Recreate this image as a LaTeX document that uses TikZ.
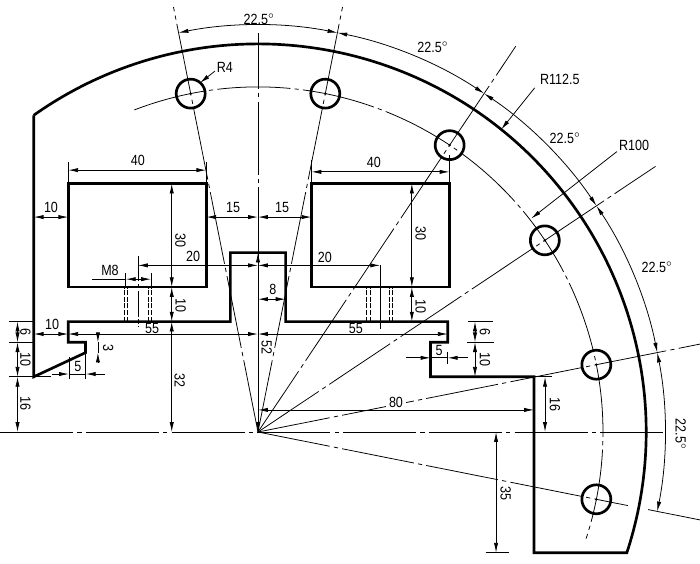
\documentclass[tikz,border=0pt]{standalone}
\usepackage{fontspec}
\setmainfont[FakeStretch=0.85]{Liberation Sans}
\usetikzlibrary{arrows.meta}
\tikzset{
    outline/.style={line width=1.9pt},
    thinline/.style={line width=0.55pt},
    centerline/.style={line width=0.55pt, dash pattern=on 52pt off 3pt on 3pt off 3pt},
    threadline/.style={line width=0.7pt, dash pattern=on 3.5pt off 1.2pt},
    dimline/.style={line width=0.55pt, {Latex[length=7pt,width=3pt]}-{Latex[length=7pt,width=3pt]}},
    dimto/.style={line width=0.55pt, -{Latex[length=7pt,width=3pt]}},
    dimlabel/.style={inner sep=0pt, font=\fontsize{10.5}{10.5}\selectfont},
    sidelabel/.style={dimlabel, rotate=-90}
}

\begin{document}
\begin{tikzpicture}[x=0.08625cm, y=0.08625cm]
        \useasboundingbox (-74.78, -38.26) rectangle (128.12, 125.22);
        % center lines
        \draw [centerline] (-74.78, 0) -- (117.5, 0);
        \draw [centerline] (0, 0) -- (0, 115.6);
        \draw [centerline] (0, 0) -- (101.25:125.6);
        \draw [centerline] (0, 0) -- (78.75:125.6);
        \draw [centerline] (0, 0) -- (56.25:134.5);
        \draw [centerline] (0, 0) -- (33.75:138.6);
        \draw [centerline] (0, 0) -- (11.25:130.6);
        \draw [centerline] (0, 0) -- (-11.25:109.3);
        \draw [thinline] (-11.25:115.3) -- (-11.25:130.6);
        \draw [centerline] (111:100) arc (111:-18:100);
        % part
        \draw [outline] (125.3:112.5) -- (-65, 16) -- (-50, 23) -- (-50, 26) -- (-55, 26) -- (-55, 32) --
        (-8, 32) -- (-8, 52) -- (8, 52) -- (8, 32) -- (55, 32) -- (55, 26) -- (50, 26) -- (50, 16) --
        (80, 16) -- (80, -35) -- (-18.13:112.5) arc (-18.13:125.3:112.5);
        \draw [outline] (-55, 42) rectangle (-15, 72);
        \draw [outline] (15.5, 42) rectangle (55.5, 72);
        \foreach \a in {101.25, 78.75, 56.25, 33.75, 11.25, -11.25} {
            \draw [outline] (\a:100) circle (4.2);
            \fill (\a:100) circle (0.4);
        }
        % threads
        \foreach \x in {-38.6, -37.7, -31.7, -31, 31.5, 32.5, 38.1, 39} {
            \draw [threadline] (\x, 32) -- (\x, 42);
        }
        \draw [centerline, dash pattern=on 18pt off 2pt on 3pt off 2pt] (-34.8, 51) -- (-34.8, 30.4);
        \draw [thinline] (35.4, 48.4) -- (35.4, 29.9);
        % angle dimensions
        \draw [dimline] (101.25:118) arc (101.25:78.75:118);
        \draw [dimline] (78.75:118) arc (78.75:56.25:118);
        \draw [dimline] (56.25:118) arc (56.25:33.75:118);
        \draw [dimline] (33.75:118) arc (33.75:11.25:118);
        \draw [dimline] (11.25:118) arc (11.25:-11.25:118);
        \node [dimlabel] (angleA) at (0.3, 119.7) {22.5$^\circ$};
        \node [dimlabel] (angleB) at (50.7, 111.5) {22.5$^\circ$};
        \node [dimlabel] (angleC) at (89, 85.1) {22.5$^\circ$};
        \node [dimlabel] (angleD) at (115.7, 47.7) {22.5$^\circ$};
        \node [sidelabel] (angleE) at (122.5, -0.6) {22.5$^\circ$};
        % radii
        \draw [dimto] (51.2:128) -- (51.2:112.5);
        \draw [dimto] (38:132) -- (38:100.5);
        \draw [dimto] (-12.5, 104.6) -- (-16.8, 101.2);
        \node [dimlabel] (radiusOuter) at (87.5, 102.3) {R112.5};
        \node [dimlabel] (radiusHoles) at (109, 83.2) {R100};
        \node [dimlabel] (radiusHole) at (-9.6, 105.8) {R4};
        % top of the windows
        \draw [thinline] (-55, 72) -- (-55, 78.3);
        \draw [thinline] (-15, 72) -- (-15, 78.3);
        \draw [dimline] (-55, 75.9) -- (-15, 75.9);
        \node [dimlabel] (widthLeft) at (-34.8, 78.8) {40};
        \draw [thinline] (15.5, 72) -- (15.5, 78.8);
        \draw [thinline] (55.5, 72) -- (55.5, 80.3);
        \draw [dimline] (15.5, 75.4) -- (55.5, 75.4);
        \node [dimlabel] (widthRight) at (33.6, 78.2) {40};
        \draw [dimline] (-65, 62.3) -- (-55, 62.3);
        \node [dimlabel] (wallTop) at (-60, 65.1) {10};
        \draw [dimline] (-15, 62.3) -- (0, 62.3);
        \draw [dimline] (0, 62.3) -- (15.5, 62.3);
        \node [dimlabel] (gapLeft) at (-7.2, 65.1) {15};
        \node [dimlabel] (gapRight) at (7, 65.1) {15};
        % heights
        \draw [dimline] (-25, 72) -- (-25, 42);
        \draw [dimline] (-25, 42) -- (-25, 32);
        \draw [dimline] (-25, 32) -- (-25, 0);
        \node [sidelabel] (heightLeft) at (-22.5, 55.4) {30};
        \node [sidelabel] (webLeft) at (-22.4, 36.8) {10};
        \node [sidelabel] (baseLeft) at (-22.7, 14.8) {32};
        \draw [dimline] (44.6, 72) -- (44.6, 42);
        \draw [dimline] (44.6, 42) -- (44.6, 32);
        \node [sidelabel] (heightRight) at (47.2, 57.4) {30};
        \node [sidelabel] (webRight) at (47.2, 36.5) {10};
        \draw [dimline] (0, 52) -- (0, 0);
        \node [sidelabel] (stem) at (2.5, 24.6) {52};
        \draw [dimline] (0, 38.5) -- (8, 38.5);
        \node [dimlabel] (stemHalf) at (4.3, 41.4) {8};
        % thread positions
        \draw [dimline] (-34.8, 48.3) -- (0, 48.3);
        \draw [dimline] (0, 48.3) -- (35.4, 48.3);
        \node [dimlabel] (threadLeft) at (-18.8, 50.9) {20};
        \node [dimlabel] (threadRight) at (19.4, 50.6) {20};
        \draw [thinline] (-38.3, 42) -- (-38.3, 46);
        \draw [thinline] (-31, 42) -- (-31, 46);
        \draw [thinline] (-48.1, 44.3) -- (-38.3, 44.3);
        \draw [dimline] (-38.3, 44.3) -- (-31, 44.3);
        \node [dimlabel] (threadSize) at (-42.9, 46.9) {M8};
        % base
        \draw [dimline] (-65, 28.4) -- (-55, 28.4);
        \draw [dimline] (-55, 28.4) -- (0, 28.4);
        \draw [dimline] (0, 28.4) -- (55, 28.4);
        \node [dimlabel] (wallBase) at (-59.7, 31.2) {10};
        \node [dimlabel] (baseLeftW) at (-30.7, 30) {55};
        \node [dimlabel] (baseRightW) at (28.4, 30) {55};
        % left stack
        \draw [thinline] (-72.2, 32) -- (-65, 32);
        \draw [thinline] (-72.2, 26) -- (-65, 26);
        \draw [thinline] (-72.2, 16) -- (-60, 16);
        \draw [dimline] (-69.7, 32) -- (-69.7, 26);
        \draw [dimline] (-69.7, 26) -- (-69.7, 16);
        \draw [dimline] (-69.7, 16) -- (-69.7, 0);
        \node [sidelabel] (stackA) at (-67.4, 29) {6};
        \node [sidelabel] (stackB) at (-67.4, 20.9) {10};
        \node [sidelabel] (stackC) at (-67.4, 8.4) {16};
        % hook left
        \draw [thinline] (-46.4, 26) -- (-46.4, 23);
        \draw [dimto] (-46.4, 28.6) -- (-46.4, 26);
        \draw [dimto] (-46.4, 20.3) -- (-46.4, 23);
        \node [sidelabel] (hookHeight) at (-43.4, 24.3) {3};
        \draw [thinline] (-54.8, 21.7) -- (-54.8, 15.4);
        \draw [thinline] (-49.9, 23) -- (-49.9, 15.4);
        \draw [thinline] (-54.8, 16.8) -- (-49.9, 16.8);
        \draw [dimto] (-59.7, 16.8) -- (-54.8, 16.8);
        \draw [dimto] (-44.3, 16.8) -- (-49.9, 16.8);
        \node [dimlabel] (hookLeft) at (-52.2, 19.1) {5};
        % hook right
        \draw [thinline] (55, 23.2) -- (55, 19.7);
        \draw [thinline] (50, 21.5) -- (55, 21.5);
        \draw [dimto] (42.9, 21.5) -- (50, 21.5);
        \draw [dimto] (60.9, 21.5) -- (55, 21.5);
        \node [dimlabel] (hookRight) at (52.5, 23.5) {5};
        \draw [thinline] (61, 32) -- (68, 32);
        \draw [thinline] (60.6, 26) -- (68.4, 26);
        \draw [dimline] (62.9, 32) -- (62.9, 26);
        \draw [dimline] (62.9, 26) -- (62.9, 16);
        \node [sidelabel] (stackD) at (65.8, 29) {6};
        \node [sidelabel] (stackE) at (65.8, 20.9) {10};
        % leg
        \draw [dimline] (0, 6.4) -- (80, 6.4);
        \node [dimlabel, fill=white, inner xsep=2pt] (legX) at (40, 8.6) {80};
        \draw [thinline] (80, 16) -- (85.2, 16);
        \draw [dimline] (83.2, 16) -- (83.2, 0);
        \node [sidelabel] (legUp) at (86.1, 8.1) {16};
        \draw [thinline] (66, -35) -- (72.8, -35);
        \draw [dimline] (69, 0) -- (69, -35);
        \node [sidelabel] (legDown) at (71.8, -17.7) {35};
\end{tikzpicture}
\end{document}
